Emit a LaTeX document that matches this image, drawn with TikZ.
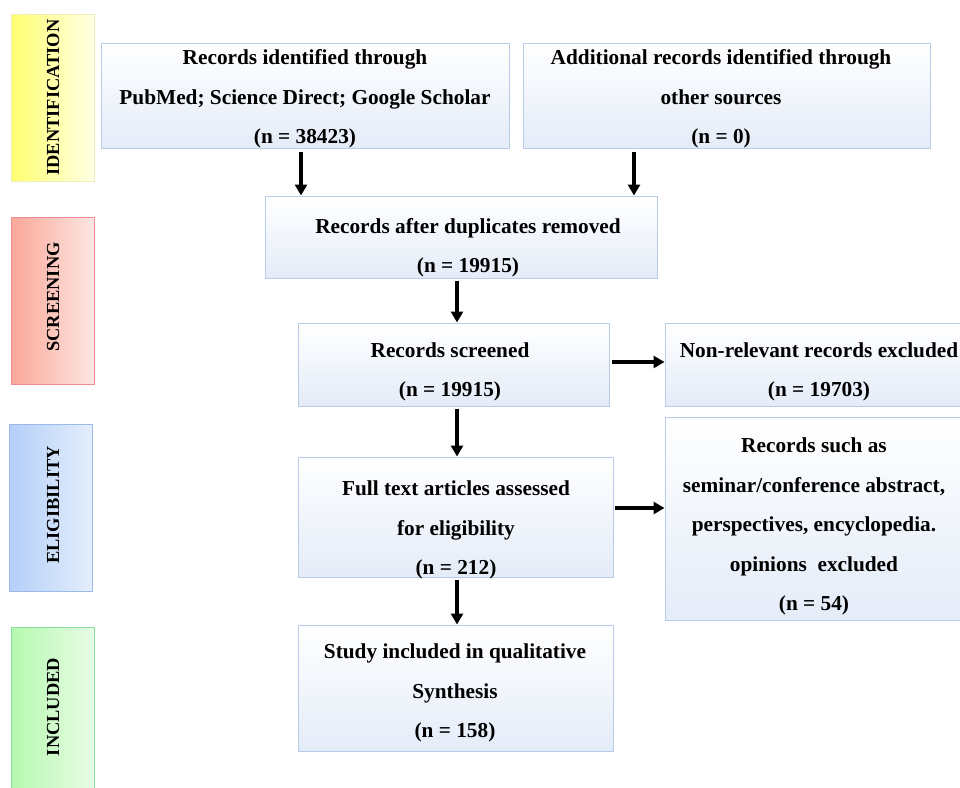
\documentclass[tikz,border=0pt]{standalone}
\usepackage{fontspec}
\setmainfont{Liberation Serif}
\usetikzlibrary{arrows.meta}
\definecolor{boxborder}{HTML}{B8CCE8}
\definecolor{boxbottom}{HTML}{E4ECF8}
\definecolor{yelL}{HTML}{FFFF70}\definecolor{yelR}{HTML}{FFFFE4}\definecolor{yelB}{HTML}{EEEEB8}
\definecolor{redL}{HTML}{FBA898}\definecolor{redR}{HTML}{FDE6E2}\definecolor{redB}{HTML}{F08C98}
\definecolor{bluL}{HTML}{B4CFF8}\definecolor{bluR}{HTML}{E4EEFC}\definecolor{bluB}{HTML}{9CBAE8}
\definecolor{grnL}{HTML}{B6F8AE}\definecolor{grnR}{HTML}{E8FCE6}\definecolor{grnB}{HTML}{84E0A0}
\tikzset{
  mainbox/.style={draw=boxborder, line width=1pt, top color=white, bottom color=boxbottom, inner sep=0pt},
  boxtext/.style={align=center, font=\fontsize{21.3}{39.5}\selectfont\bfseries, inner sep=0pt, yshift=-2pt},
  phase/.style={line width=1pt, inner sep=0pt, minimum width=83pt, minimum height=167pt},
  phasetext/.style={rotate=90, font=\fontsize{18.4}{20}\selectfont\bfseries, inner sep=0pt},
  arr/.style={line width=3.6pt, -{Triangle[length=11pt,width=12pt]}}
}
\begin{document}
\begin{tikzpicture}[x=1pt,y=-1pt]
\useasboundingbox (0,0) rectangle (960,787);
% phase labels
\node[phase, draw=yelB, left color=yelL, right color=yelR] (p1) at (52.5,97.5) {};
\node[phasetext] at (53,97.5) {IDENTIFICATION};
\node[phase, draw=redB, left color=redL, right color=redR] (p2) at (52.5,300.5) {};
\node[phasetext] at (53,297) {SCREENING};
\node[phase, draw=bluB, left color=bluL, right color=bluR] (p3) at (51,507.5) {};
\node[phasetext] at (53,505) {ELIGIBILITY};
\node[phase, draw=grnB, left color=grnL, right color=grnR, minimum height=170pt] (p4) at (52.5,712) {};
\node[phasetext] at (53,707) {INCLUDED};
% main boxes
\node[mainbox, minimum width=408pt, minimum height=105pt] (A) at (305,95.5) {};
\node[boxtext] at (305,97) {Records identified through\\PubMed; Science Direct; Google Scholar\\(n = 38423)};
\node[mainbox, minimum width=407pt, minimum height=105pt] (B) at (726.5,95.5) {};
\node[boxtext] at (721,97) {Additional records identified through\\other sources\\(n = 0)};
\node[mainbox, minimum width=392pt, minimum height=82pt] (C) at (461,237) {};
\node[boxtext] at (468,246) {Records after duplicates removed\\(n = 19915)};
\node[mainbox, minimum width=311pt, minimum height=83pt] (D) at (453.5,364.5) {};
\node[boxtext] at (450,370) {Records screened\\(n = 19915)};
\node[mainbox, minimum width=302pt, minimum height=83pt] (E) at (816,364.5) {};
\node[boxtext] at (819,370) {Non-relevant records excluded\\(n = 19703)};
\node[mainbox, minimum width=315pt, minimum height=120pt] (F) at (455.5,517) {};
\node[boxtext] at (456,528) {Full text articles assessed\\for eligibility\\(n = 212)};
\node[mainbox, minimum width=302pt, minimum height=203pt] (G) at (816,518.5) {};
\node[boxtext] at (814,524.5) {Records such as\\seminar/conference abstract,\\perspectives, encyclopedia.\\opinions\ \ excluded\\(n = 54)};
\node[mainbox, minimum width=315pt, minimum height=126pt] (H) at (455.5,688) {};
\node[boxtext] at (455,691) {Study included in qualitative\\Synthesis\\(n = 158)};
% arrows
\draw[arr] (A.south -| 301,0) ++(0,3) -- (C.north -| 301,0);
\draw[arr] (B.south -| 634,0) ++(0,3) -- (C.north -| 634,0);
\draw[arr] (C.south -| 457,0) ++(0,2) -- (D.north -| 457,0);
\draw[arr] (D.east |- 0,362) ++(2,0) -- (E.west |- 0,362);
\draw[arr] (D.south -| 457,0) ++(0,2) -- (F.north -| 457,0);
\draw[arr] (F.east |- 0,508) ++(1,0) -- (G.west |- 0,508);
\draw[arr] (F.south -| 457,0) ++(0,2) -- (H.north -| 457,0);
\end{tikzpicture}
\end{document}
